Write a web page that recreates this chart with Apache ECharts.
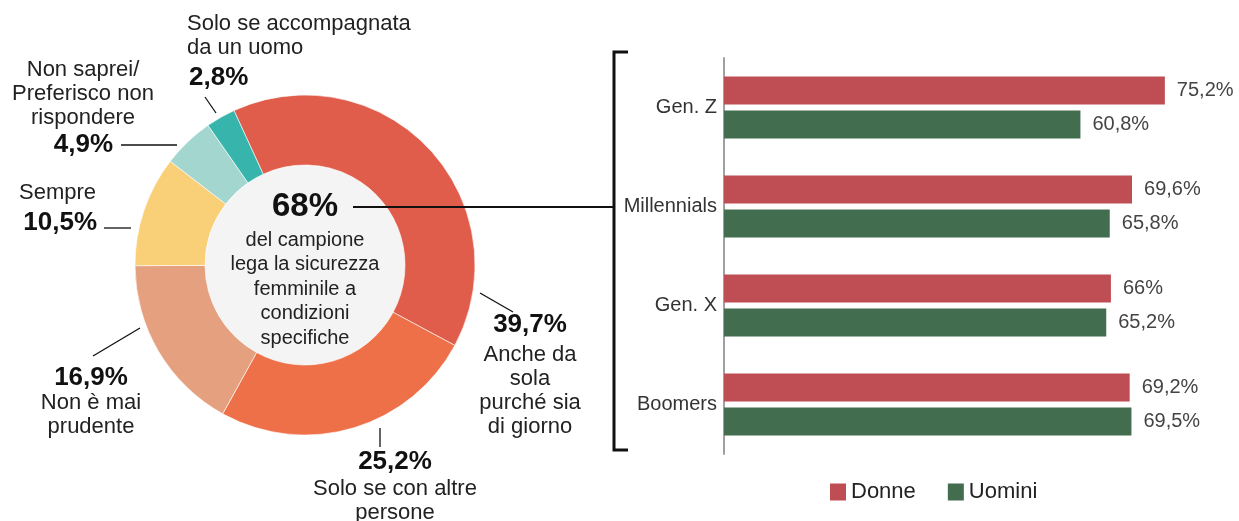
<!DOCTYPE html>
<html>
<head>
<meta charset="utf-8">
<script src="https://cdn.jsdelivr.net/npm/echarts@6/dist/echarts.min.js"></script>
<style>
  html, body { margin: 0; padding: 0; background: #fff; }
  #chart { width: 1239px; height: 521px; }
</style>
</head>
<body>
<div id="chart"></div>
<script>
// torta: sicurezza femminile
var pieNames = ['Anche da\nsola\npurché sia\ndi giorno', 'Solo se con altre\npersone', 'Non è mai\nprudente', 'Sempre', 'Non saprei/\nPreferisco non\nrispondere', 'Solo se accompagnata\nda un uomo']
var pieValues = [39.7, 25.2, 16.9, 10.5, 4.9, 2.8]
var centerValue = 68
var centerText = 'del campione\nlega la sicurezza\nfemminile a\ncondizioni\nspecifiche'

// barre: generazioni
var categories = ['Gen. Z', 'Millennials', 'Gen. X', 'Boomers']
var donne = [75.2, 69.6, 66, 69.2]
var uomini = [60.8, 65.8, 65.2, 69.5]

var pieColors = ['#e05c4b', '#ee7048', '#e5a080', '#f9cf78', '#a3d6cf', '#37b5ac']
var FONT = '"Liberation Sans", Arial, sans-serif'

function fmt(v) {
  return (Number.isInteger(v) ? String(v) : v.toFixed(1).replace('.', ',')) + '%'
}

var chart = echarts.init(document.getElementById('chart'))

// posizione etichette della torta (nome, percentuale, linea guida)
var labelPos = [
  { nx: 530, ny: 343, na: 'center', px: 530, py: 325, pa: 'center', line: [[480, 293], [513, 312]] },
  { nx: 395, ny: 477, na: 'center', px: 395, py: 462, pa: 'center', line: [[380, 428], [380, 447]] },
  { nx: 91, ny: 391, na: 'center', px: 91, py: 378, pa: 'center', line: [[93, 356], [140, 328]] },
  { nx: 19, ny: 181, na: 'left', px: 97, py: 223, pa: 'right', line: [[104, 228], [131, 228]] },
  { nx: 83, ny: 58, na: 'center', px: 113, py: 145, pa: 'right', line: [[121, 145], [177, 145]] },
  { nx: 187, ny: 12, na: 'left', px: 189, py: 78, pa: 'left', line: [[205, 97], [216, 113]] }
]

var graphics = []
pieValues.forEach(function (v, i) {
  var p = labelPos[i]
  graphics.push({
    type: 'text', x: p.nx, y: p.ny, z: 100,
    style: { text: pieNames[i], font: '22px ' + FONT, fill: '#222', align: p.na, verticalAlign: 'top', lineHeight: 24 }
  })
  graphics.push({
    type: 'text', x: p.px, y: p.py, z: 100,
    style: { text: fmt(v), font: 'bold 26px ' + FONT, fill: '#111', align: p.pa, verticalAlign: 'middle' }
  })
  graphics.push({
    type: 'polyline', z: 100, shape: { points: p.line },
    style: { stroke: '#111', lineWidth: 1.3, fill: null }
  })
})

// testo centrale
graphics.push({
  type: 'text', x: 305, y: 207, z: 100,
  style: { text: centerValue + '%', font: 'bold 33px ' + FONT, fill: '#111', align: 'center', verticalAlign: 'middle' }
})
graphics.push({
  type: 'text', x: 305, y: 228, z: 100,
  style: { text: centerText, font: '20px ' + FONT, fill: '#222', align: 'center', verticalAlign: 'top', lineHeight: 24.5 }
})
// collegamento e parentesi
graphics.push({
  type: 'line', z: 100, shape: { x1: 353, y1: 207, x2: 614, y2: 207 },
  style: { stroke: '#111', lineWidth: 2.2 }
})
graphics.push({
  type: 'polyline', z: 100, shape: { points: [[628, 52], [614, 52], [614, 450], [628, 450]] },
  style: { stroke: '#111', lineWidth: 3, fill: null }
})

var option = {
  animation: false,
  textStyle: { fontFamily: FONT },
  legend: {
    data: ['Donne', 'Uomini'],
    left: 825, top: 476,
    icon: 'rect',
    itemWidth: 16, itemHeight: 17,
    itemGap: 32,
    textStyle: { fontSize: 22, color: '#222', fontFamily: FONT }
  },
  grid: { left: 724, top: 58, width: 469, height: 396, containLabel: false },
  xAxis: {
    type: 'value', min: 0, max: 80,
    show: false
  },
  yAxis: {
    type: 'category',
    data: categories,
    inverse: true,
    axisTick: { show: false },
    axisLine: { lineStyle: { color: '#a0a0a0', width: 2 } },
    axisLabel: { color: '#333', fontSize: 20, margin: 7 }
  },
  series: [
    {
      type: 'pie',
      silent: true,
      center: [305, 265],
      radius: [0, 100],
      data: [{ value: 1, itemStyle: { color: '#f4f4f4' } }],
      label: { show: false },
      labelLine: { show: false }
    },
    {
      type: 'pie',
      silent: true,
      center: [305, 265],
      radius: [100, 170],
      startAngle: 114.7,
      clockwise: true,
      data: pieValues.map(function (v, i) {
        return { name: pieNames[i], value: v, itemStyle: { color: pieColors[i] } }
      }),
      itemStyle: { borderColor: '#fff', borderWidth: 0.6 },
      label: { show: false },
      labelLine: { show: false }
    },
    {
      name: 'Donne',
      type: 'bar',
      data: donne,
      barWidth: 28,
      barGap: '22%',
      itemStyle: { color: '#be4e53' },
      label: { show: true, position: 'right', distance: 12, fontSize: 20, color: '#444', formatter: function (p) { return fmt(p.value) } }
    },
    {
      name: 'Uomini',
      type: 'bar',
      data: uomini,
      barWidth: 28,
      barGap: '22%',
      itemStyle: { color: '#426d4e' },
      label: { show: true, position: 'right', distance: 12, fontSize: 20, color: '#444', formatter: function (p) { return fmt(p.value) } }
    }
  ],
  graphic: graphics
}

chart.setOption(option)
window.addEventListener('resize', function () {
  chart.resize()
})
</script>
</body>
</html>
